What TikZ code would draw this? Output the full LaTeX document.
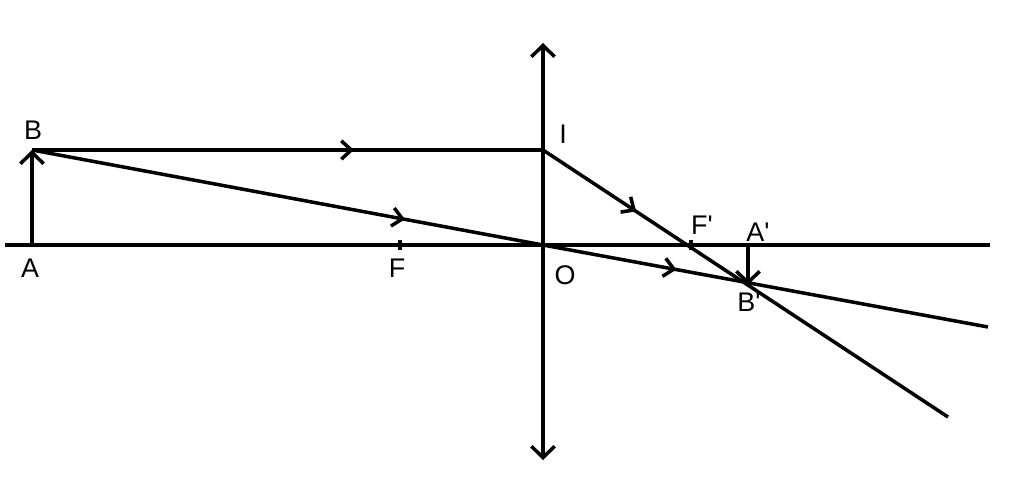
\documentclass[tikz,border=0pt]{standalone}
\usepackage{fontspec}
\setmainfont{Liberation Sans}
\usetikzlibrary{arrows.meta,decorations.markings}

\begin{document}
\begin{tikzpicture}[x=0.03cm, y=-0.03cm, line width=3pt,
	every node/.style={font=\fontsize{23}{27}\selectfont},
	endtip/.style={-{Straight Barb[length=3.4mm,width=7mm]}},
	bothtip/.style={{Straight Barb[length=3.4mm,width=7mm]}-{Straight Barb[length=3.4mm,width=7mm]}},
	midarrow/.style={postaction={decorate}, decoration={markings,
		mark=at position #1 with {\arrow{Straight Barb[length=3mm,width=5.5mm]}}}}]

\useasboundingbox (0,0) rectangle (1024,501);

% Points of the figure
\coordinate (axL) at (5,245);
\coordinate (axR) at (990,245);
\coordinate (lensT) at (543,43);
\coordinate (lensB) at (543,460);
\coordinate (A) at (32,245);
\coordinate (B) at (32,150);
\coordinate (I) at (543,150);
\coordinate (O) at (543,245);
\coordinate (Ai) at (748,245);
\coordinate (Bi) at (748,285);
\coordinate (end1) at (948,417);
\coordinate (end2) at (988,327);

% Optical axis and lens
\draw (axL) -- (axR);
\draw[bothtip] (lensB) -- (lensT);

% Focal points
\foreach \x in {400,691} {
	\draw (\x,240) -- (\x,250);
}

% Object and image
\draw[endtip] (A) -- (B);
\draw[endtip] (Ai) -- (Bi);

% Rays
\draw[midarrow=0.63] (B) -- (I);
\draw[midarrow=0.23] (I) -- (end1);
\draw[midarrow=0.73] (B) -- (O);
\draw[midarrow=0.30] (O) -- (end2);

% Labels
\node (lB) at (33,130) {B};
\node (lA) at (30,268) {A};
\node (lF) at (397,268) {F};
\node (lO) at (565,275) {O};
\node (lI) at (563,134) {I};
\node (lFp) at (702,225) {F\textquotesingle};
\node (lAi) at (758,232) {A\textquotesingle};
\node (lBi) at (749,302) {B\textquotesingle};

\end{tikzpicture}
\end{document}
